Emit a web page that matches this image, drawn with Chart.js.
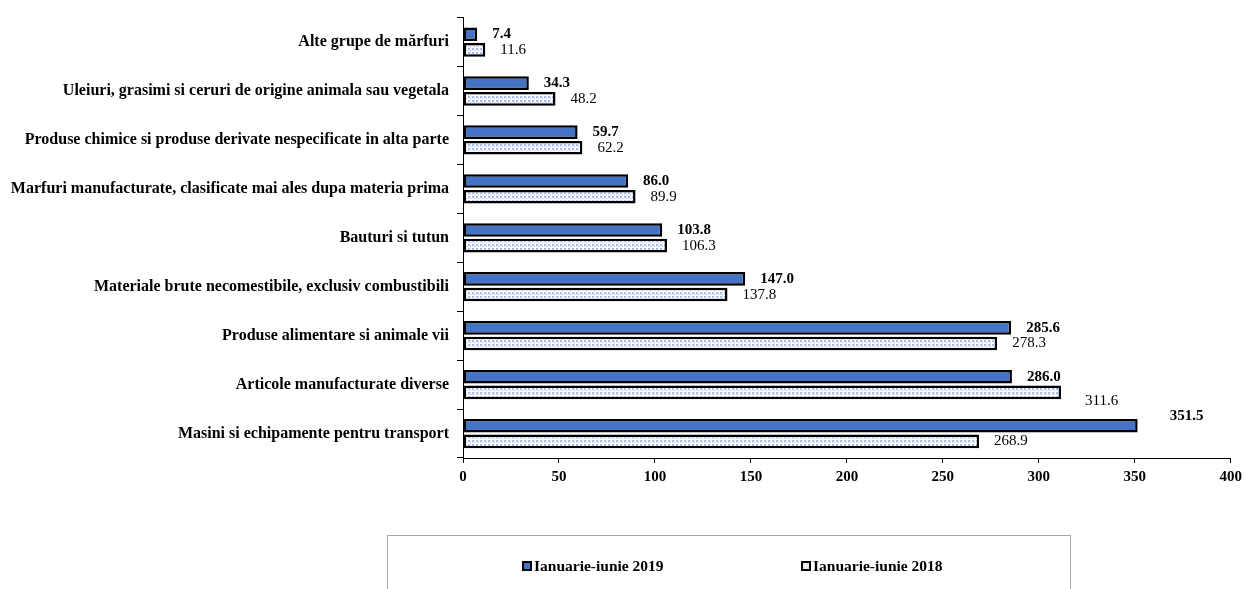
<!DOCTYPE html>
<html>
<head>
<meta charset="utf-8">
<script src="https://cdn.jsdelivr.net/npm/chart.js@4"></script>
<style>
  html, body { margin: 0; padding: 0; background: #fff; }
  #wrap { position: relative; width: 1247px; height: 589px; }
  #legend {
    position: absolute; left: 387px; top: 535px; width: 684px; height: 60px;
    border: 1px solid #a6a6a6; box-sizing: border-box;
    font: bold 15.5px "Liberation Serif", "Times New Roman", serif; color: #000;
  }
  #legend .item { position: absolute; top: 21px; white-space: nowrap; }
  #legend .sw { display: inline-block; width: 6px; height: 6px; border: 2px solid #000;
    vertical-align: 0px; margin-right: 2px; }
</style>
</head>
<body>
<div id="wrap">
  <canvas id="c" width="1247" height="589"></canvas>
  <div id="legend"></div>
</div>
<script>
// categories, top to bottom
const categories = [
  'Alte grupe de mărfuri',
  'Uleiuri, grasimi si ceruri de origine animala sau vegetala',
  'Produse chimice si produse derivate nespecificate in alta parte',
  'Marfuri manufacturate, clasificate mai ales dupa materia prima',
  'Bauturi si tutun',
  'Materiale brute necomestibile, exclusiv combustibili',
  'Produse alimentare si animale vii',
  'Articole manufacturate diverse',
  'Masini si echipamente pentru transport',
];
const values2019 = [7.4, 34.3, 59.7, 86.0, 103.8, 147.0, 285.6, 286.0, 351.5];
const values2018 = [11.6, 48.2, 62.2, 89.9, 106.3, 137.8, 278.3, 311.6, 268.9];
const xTicks = [0, 50, 100, 150, 200, 250, 300, 350, 400];

const FONT = '"Liberation Serif", "Times New Roman", serif';

// dotted light-blue fill used for the 2018 bars
function dotPattern() {
  const p = document.createElement('canvas');
  p.width = 4; p.height = 4;
  const g = p.getContext('2d');
  g.fillStyle = '#ffffff'; g.fillRect(0, 0, 4, 4);
  g.fillStyle = '#a9bfe6';
  g.fillRect(0, 0, 2, 2); g.fillRect(2, 2, 1, 1);
  g.fillStyle = '#e4ebf7';
  g.fillRect(2, 0, 1, 1); g.fillRect(0, 2, 1, 1);
  return g.createPattern(p, 'repeat');
}

// value labels to the right of each bar; a couple are nudged like in the original
const labelNudge = { '0-8': [17, -10], '1-7': [9, 9] };
const valueLabels = {
  id: 'valueLabels',
  afterDatasetsDraw(chart) {
    const ctx = chart.ctx;
    ctx.save();
    ctx.textBaseline = 'middle';
    ctx.fillStyle = '#000';
    chart.data.datasets.forEach((ds, di) => {
      ctx.font = (di === 0 ? 'bold ' : '') + '15px ' + FONT;
      chart.getDatasetMeta(di).data.forEach((bar, i) => {
        const n = labelNudge[di + '-' + i] || [0, 0];
        ctx.fillText(ds.data[i].toFixed(1), bar.x + 15 + n[0], bar.y + n[1]);
      });
    });
    ctx.restore();
  }
};

const chart = new Chart(document.getElementById('c'), {
  type: 'bar',
  data: {
    labels: categories,
    datasets: [
      { label: 'Ianuarie-iunie 2019', data: values2019, backgroundColor: '#4472c4',
        borderColor: '#000', borderWidth: 2.5, borderSkipped: false },
      { label: 'Ianuarie-iunie 2018', data: values2018, backgroundColor: dotPattern(),
        borderColor: '#000', borderWidth: 2.5, borderSkipped: false },
    ],
  },
  options: {
    indexAxis: 'y',
    responsive: false,
    animation: false,
    categoryPercentage: 0.64,
    barPercentage: 0.87,
    layout: { padding: { top: 15, right: 13, bottom: 98, left: 0 } },
    plugins: { legend: { display: false }, tooltip: { enabled: false } },
    scales: {
      x: {
        min: 0, max: 400,
        afterBuildTicks(s) { s.ticks = xTicks.map(v => ({ value: v })); },
        grid: { drawOnChartArea: false, drawTicks: true, tickLength: 5, color: '#000' },
        border: { color: '#000', width: 1 },
        ticks: { color: '#000', font: { family: FONT, size: 15, weight: 'bold' }, padding: 5 },
      },
      y: {
        afterFit(s) { s.width = 463; },
        grid: { drawOnChartArea: false, drawTicks: true, tickLength: 6, offset: true, color: '#000' },
        border: { color: '#000', width: 1 },
        ticks: { color: '#000', font: { family: FONT, size: 16, weight: 'bold' }, padding: 8, autoSkip: false },
      },
    },
  },
  plugins: [valueLabels],
});

// legend box under the chart
const legendEl = document.getElementById('legend');
const legendX = [134, 413];
chart.data.datasets.forEach((ds, i) => {
  const item = document.createElement('span');
  item.className = 'item';
  item.style.left = legendX[i] + 'px';
  const sw = document.createElement('span');
  sw.className = 'sw';
  sw.style.background = i === 0 ? '#4472c4' : '#e4ebf7';
  item.appendChild(sw);
  item.appendChild(document.createTextNode(ds.label));
  legendEl.appendChild(item);
});
</script>
</body>
</html>
